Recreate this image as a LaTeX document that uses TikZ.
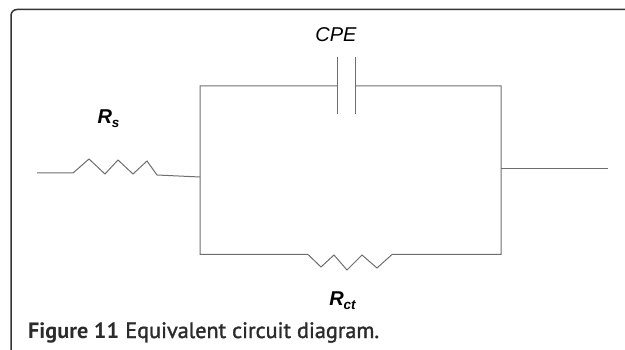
\documentclass[tikz,border=0pt]{standalone}
\usepackage{fontspec}
\setmainfont{Liberation Sans}
\newfontfamily\capfont{PT Sans}
\newfontfamily\capsemi[FakeBold=1.5]{PT Sans}
\definecolor{wire}{HTML}{6E6E6E}
\definecolor{framec}{HTML}{333333}
\definecolor{captc}{HTML}{2B2B2B}
\tikzset{
  wirestyle/.style={draw=wire, line width=1pt, line join=miter},
  framestyle/.style={draw=framec, line width=1.5pt, rounded corners=6pt},
  lbl/.style={inner sep=0pt, anchor=base, font=\fontsize{20}{22}\selectfont\itshape},
  captstyle/.style={inner sep=0pt, anchor=base west, text=captc}
}
\newcommand{\subtxt}[1]{\raisebox{-0.35ex}{\fontsize{13.5}{14}\selectfont #1}}
\begin{document}
\begin{tikzpicture}[x=1pt,y=-1pt]
\useasboundingbox (0,0) rectangle (625,350);
% frame
\draw[framestyle] (11,351) -- (11,9.5) -- (626,9.5);
% coordinates
\coordinate (inL) at (37,173);
\coordinate (rsA) at (73,173);
\coordinate (rsB) at (157,175);
\coordinate (nL) at (200,177);
\coordinate (tl) at (200,86);
\coordinate (bl) at (200,254.5);
\coordinate (tr) at (501,86);
\coordinate (br) at (501,254.5);
\coordinate (nR) at (501,169);
\coordinate (outR) at (608,169);
\coordinate (c1) at (337,86);
\coordinate (c2) at (355,86);
\coordinate (c1t) at (337,57);
\coordinate (c1b) at (337,114);
\coordinate (c2t) at (355,57);
\coordinate (c2b) at (355,114);
\coordinate (rcA) at (392,254.5);
\coordinate (rcB) at (308,254.5);
% Rs branch
\draw[wirestyle] (inL) -- (rsA) -- (89,159) -- (105,174) -- (118,160) -- (133,174) -- (147,161) -- (rsB) -- (nL);
% parallel box
\draw[wirestyle] (c1) -- (tl) -- (bl) -- (rcB) -- (321,267) -- (334,255) -- (347,270) -- (362,255) -- (377,268) -- (rcA) -- (br) -- (tr) -- (c2);
% capacitor plates
\draw[wirestyle] (c1t) -- (c1b);
\draw[wirestyle] (c2t) -- (c2b);
% output wire
\draw[wirestyle] (nR) -- (outR);
% labels
\node[lbl] (cpe) at (336,42) {CPE};
\node[lbl, font=\fontsize{20}{22}\selectfont\bfseries\itshape] (rs) at (108.5,124) {R\subtxt{s}};
\node[lbl, font=\fontsize{20}{22}\selectfont\bfseries\itshape] (rct) at (342.5,306) {R\subtxt{ct}};
\node[captstyle] (cap) at (28,338) {\fontsize{22.2}{24}\selectfont{\capfont\bfseries Figure 11} {\capsemi Equivalent circuit diagram.}};
\end{tikzpicture}
\end{document}
